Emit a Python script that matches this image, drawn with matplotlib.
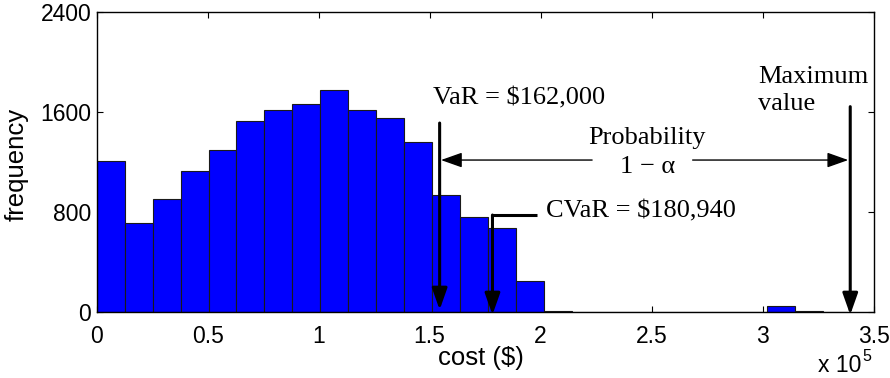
import numpy as np
import matplotlib
matplotlib.use("Agg")
import matplotlib.pyplot as plt

# histogram of simulated cost (x in units of 1e5 $), 27 bins from 0 to 3.4
counts = [1210, 712, 904, 1133, 1296, 1528, 1616, 1666, 1781, 1616, 1552, 1362,
          938, 762, 672, 253, 10, 0, 0, 0, 0, 0, 0, 0, 50, 8, 6]
cost_min, cost_max = 0.0, 3.4
nbins = len(counts)

var_x = 1.545
cvar_x = 1.783
max_x = 3.395

xticks = [0, 0.5, 1, 1.5, 2, 2.5, 3, 3.5]
xtick_labels = ["0", "0.5", "1", "1.5", "2", "2.5", "3", "3.5"]
yticks = [0, 800, 1600, 2400]

sans = "Liberation Sans"
serif = "Liberation Serif"

fig = plt.figure(figsize=(8.9, 3.78), dpi=100)
ax = fig.add_axes([0.1087, 0.1738, 0.9815 - 0.1087, 0.9675 - 0.1738])

edges = np.linspace(cost_min, cost_max, nbins + 1)
ax.bar(edges[:-1], counts, width=np.diff(edges), align="edge",
       color="#0000ff", edgecolor="#1a1a1a", linewidth=0.8, zorder=2)

ax.set_xlim(0, 3.5)
ax.set_ylim(0, 2400)
ax.set_xticks(xticks)
ax.set_xticklabels(xtick_labels, fontfamily=sans, fontsize=16.5)
ax.set_yticks(yticks)
ax.set_yticklabels([str(v) for v in yticks], fontfamily=sans, fontsize=16.5)
ax.tick_params(direction="in", length=4, width=0.8, top=True, right=True)
ax.tick_params(axis="x", pad=9.5)
ax.tick_params(axis="y", pad=4)
for s in ax.spines.values():
    s.set_linewidth(1.0)

fig.text(0.5404, 0.0529, "cost ($)", fontfamily=sans, fontsize=18.5,
         ha="center", va="center")
fig.text(0.0188, 0.5648, "frequency", fontfamily=sans, fontsize=18.5,
         ha="center", va="center", rotation=90)

# x 10^5 multiplier
fig.text(0.919, 0.034, "x 10", fontfamily=sans, fontsize=16.5, ha="left", va="center")
fig.text(0.9745, 0.056, "5", fontfamily=sans, fontsize=11.5, ha="center", va="center")

vstyle = dict(arrowstyle="-|>,head_length=0.65,head_width=0.23", color="black",
              lw=2.2, mutation_scale=20, shrinkA=0, shrinkB=0)
hstyle = dict(arrowstyle="-|>,head_length=0.65,head_width=0.23", color="black",
              lw=1.0, mutation_scale=20, shrinkA=0, shrinkB=0)

# VaR
ax.annotate("", xy=(var_x, 20), xytext=(var_x, 1514), arrowprops=vstyle,
            zorder=5, annotation_clip=False)
ax.text(1.514, 1712, "VaR = $162,000", fontfamily=serif, fontsize=19,
        ha="left", va="center", zorder=6)

# CVaR
ax.annotate("", xy=(cvar_x, -20), xytext=(cvar_x, 778), arrowprops=vstyle,
            zorder=5, annotation_clip=False)
ax.plot([cvar_x - 0.004, 1.985], [778, 778], color="black", lw=2.2, zorder=5,
        solid_capstyle="butt")
ax.text(2.024, 805, "CVaR = $180,940", fontfamily=serif, fontsize=19,
        ha="left", va="center", zorder=6)

# Maximum value
ax.annotate("", xy=(max_x, -20), xytext=(max_x, 1645), arrowprops=vstyle,
            zorder=5, annotation_clip=False)
ax.text(2.98, 1885, "Maximum", fontfamily=serif, fontsize=19, ha="left",
        va="center", zorder=6)
ax.text(2.98, 1670, "value", fontfamily=serif, fontsize=19, ha="left",
        va="center", zorder=6)

# Probability 1 - alpha
ax.annotate("", xy=(1.551, 1218), xytext=(2.232, 1218), arrowprops=hstyle, zorder=5)
ax.annotate("", xy=(3.386, 1218), xytext=(2.685, 1218), arrowprops=hstyle, zorder=5)
ax.text(2.48, 1395, "Probability", fontfamily=serif, fontsize=19, ha="center",
        va="center", zorder=6)
ax.text(2.48, 1160, "1 \u2212 \u03b1", fontfamily=serif, fontsize=19,
        ha="center", va="center", zorder=6)

fig.savefig("out.png", dpi=100)
